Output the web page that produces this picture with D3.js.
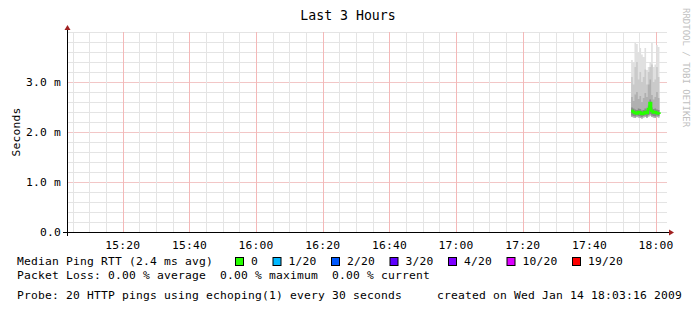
<!DOCTYPE html>
<html>
<head>
<meta charset="utf-8">
<script src="https://cdn.jsdelivr.net/npm/d3@7"></script>
<style>
  body { margin: 0; background: #fff; }
  text { font-family: "DejaVu Sans Mono", monospace; white-space: pre; }
  .lbl { font-size: 11.3px; letter-spacing: 0.2px; }
</style>
</head>
<body>
<svg></svg>
<script>
// sample times (30 s steps) and ping stats in ms
let times = ["17:52:30","17:53:00","17:53:30","17:54:00","17:54:30","17:55:00","17:55:30","17:56:00","17:56:30",
             "17:57:00","17:57:30","17:58:00","17:58:30","17:59:00","17:59:30","18:00:00","18:00:30","18:01:00"];
let pingMin = [2.30,2.29,2.28,2.30,2.29,2.28,2.27,2.29,2.30,2.28,2.31,2.33,2.30,2.29,2.28,2.30,2.29,2.28];
let pingMedian = [2.42,2.40,2.38,2.37,2.40,2.39,2.36,2.37,2.40,2.38,2.46,2.58,2.42,2.39,2.40,2.38,2.37,2.36];
let pingP75 = [2.70,2.62,2.75,2.80,2.66,2.72,2.60,2.68,2.78,2.70,2.95,3.05,2.74,2.65,2.70,2.80,2.68,2.55];
let pingP90 = [3.10,2.95,3.30,3.40,3.05,3.20,3.00,3.10,3.25,2.95,3.20,3.30,3.35,3.00,3.05,3.30,3.10,2.75];
let pingMax = [3.44,3.40,3.78,3.76,3.60,3.68,3.55,3.50,3.68,3.24,3.30,3.40,3.78,3.30,3.35,3.74,3.70,2.84];

let yTicks = [0, 1, 2, 3];
let yTickLabels = ["0.0", "1.0 m", "2.0 m", "3.0 m"];
let lossLabels = ["0", "1/20", "2/20", "3/20", "4/20", "10/20", "19/20"];
let lossColors = ["#26ff00", "#00b8ff", "#0059ff", "#5e00ff", "#7e00ff", "#dd00ff", "#ff0000"];

let parseTime = d3.timeParse("%Y-%m-%d %H:%M:%S");
let startTime = parseTime("2009-01-14 15:03:16");
let endTime = parseTime("2009-01-14 18:03:16");

let data = times.map(function (t, i) {
    return { t: parseTime("2009-01-14 " + t), min: pingMin[i], med: pingMedian[i],
             p75: pingP75[i], p90: pingP90[i], max: pingMax[i] };
});

let svgWidth = 697, svgHeight = 313;
let pLeft = 67, pRight = 667, pTop = 32, pBottom = 232;

let svg = d3.select("svg")
    .attr("width", svgWidth)
    .attr("height", svgHeight);

let x = d3.scaleTime().domain([startTime, endTime]).range([pLeft, pRight]);
let y = d3.scaleLinear().domain([0, 4]).range([pBottom, pTop]);

// grid
let minorX = d3.timeMinute.every(5).range(startTime, endTime);
let minorY = d3.range(0, 4.01, 0.2);

svg.append("g").selectAll("line").data(minorY).enter().append("line")
    .attr("x1", pLeft).attr("x2", pRight)
    .attr("y1", d => Math.round(y(d)) + 0.5).attr("y2", d => Math.round(y(d)) + 0.5)
    .attr("stroke", d => (Math.abs(d - Math.round(d)) < 0.01 && d > 0 && d < 4) ? "#f2c6c6" : "#e4e4e4");

svg.append("g").selectAll("line").data(minorX).enter().append("line")
    .attr("x1", d => Math.round(x(d)) + 0.5).attr("x2", d => Math.round(x(d)) + 0.5)
    .attr("y1", pTop).attr("y2", pBottom)
    .attr("stroke", d => d.getMinutes() % 20 == 0 ? "#f4b8b8" : "#e4e4e4");

// smoke
let bands = [
    ["min", "max", "#e0e0e0"],
    ["min", "p90", "#cacaca"],
    ["min", "p75", "#b0b0b0"],
];
bands.forEach(function (b) {
    let area = d3.area()
        .curve(d3.curveStepAfter)
        .x(d => x(d.t))
        .y0(d => y(d[b[0]]))
        .y1(d => y(d[b[1]]));
    svg.append("path").datum(data)
        .attr("fill", b[2])
        .attr("d", area);
});
let inner = d3.area()
    .curve(d3.curveStepAfter)
    .x(d => x(d.t))
    .y0(d => y(d.min + 0.03))
    .y1(d => y(d.med + 0.07));
svg.append("path").datum(data).attr("fill", "#8a8a8a").attr("d", inner);

// median
let medLine = d3.line()
    .curve(d3.curveStepAfter)
    .x(d => x(d.t))
    .y(d => y(d.med));
svg.append("path").datum(data)
    .attr("fill", "none")
    .attr("stroke", lossColors[0])
    .attr("stroke-width", 2.5)
    .attr("d", medLine);

// axes
svg.append("line").attr("x1", pLeft - 4).attr("x2", pRight + 3)
    .attr("y1", pBottom + 0.5).attr("y2", pBottom + 0.5).attr("stroke", "#000");
svg.append("line").attr("x1", pLeft + 0.5).attr("x2", pLeft + 0.5)
    .attr("y1", pTop - 4).attr("y2", pBottom + 4).attr("stroke", "#000");
svg.append("path").attr("d", `M${pRight + 7},${pBottom + 0.5} L${pRight + 2},${pBottom - 2.5} L${pRight + 2},${pBottom + 3.5}Z`)
    .attr("fill", "#a02020");
svg.append("path").attr("d", `M${pLeft + 0.5},${pTop - 7} L${pLeft - 2.5},${pTop - 2} L${pLeft + 3.5},${pTop - 2}Z`)
    .attr("fill", "#a02020");

let xTicks = d3.timeMinute.every(20).range(startTime, endTime);
svg.append("g").selectAll("text").data(xTicks).enter().append("text")
    .attr("class", "lbl")
    .attr("x", d => x(d)).attr("y", 248.5)
    .attr("text-anchor", "middle")
    .text(d3.timeFormat("%H:%M"));

svg.append("g").selectAll("text").data(yTicks).enter().append("text")
    .attr("class", "lbl")
    .attr("x", 61).attr("y", d => y(d) + 4)
    .attr("text-anchor", "end")
    .text((d, i) => yTickLabels[i]);

svg.append("text")
    .attr("class", "lbl")
    .attr("transform", "translate(19.5,132) rotate(-90)")
    .attr("text-anchor", "middle")
    .text("Seconds");

svg.append("text")
    .attr("x", 348).attr("y", 20)
    .attr("text-anchor", "middle")
    .attr("font-size", "13.2px")
    .text("Last 3 Hours");

svg.append("text")
    .attr("transform", "translate(683,8) rotate(90)")
    .attr("font-size", "9px")
    .attr("fill", "#c0c0c0")
    .text("RRDTOOL / TOBI OETIKER");

// legend
let avgMed = d3.mean(pingMedian);
svg.append("text").attr("class", "lbl").attr("x", 17).attr("y", 265)
    .text("Median Ping RTT (" + avgMed.toFixed(1) + " ms avg)");

let lx = 235;
lossLabels.forEach(function (lab, i) {
    svg.append("rect").attr("x", lx + 0.5).attr("y", 257.5).attr("width", 8).attr("height", 8)
        .attr("fill", lossColors[i]).attr("stroke", "#000");
    svg.append("text").attr("class", "lbl").attr("x", lx + 16).attr("y", 265).text(lab);
    lx += 30.5 + 7 * lab.length;
});

svg.append("text").attr("class", "lbl").attr("x", 17).attr("y", 279)
    .text("Packet Loss: 0.00 % average  0.00 % maximum  0.00 % current");

svg.append("text").attr("class", "lbl").attr("x", 17).attr("y", 299)
    .text("Probe: 20 HTTP pings using echoping(1) every 30 seconds");

svg.append("text").attr("class", "lbl").attr("x", 437).attr("y", 299)
    .text("created on Wed Jan 14 18:03:16 2009");
</script>
</body>
</html>
